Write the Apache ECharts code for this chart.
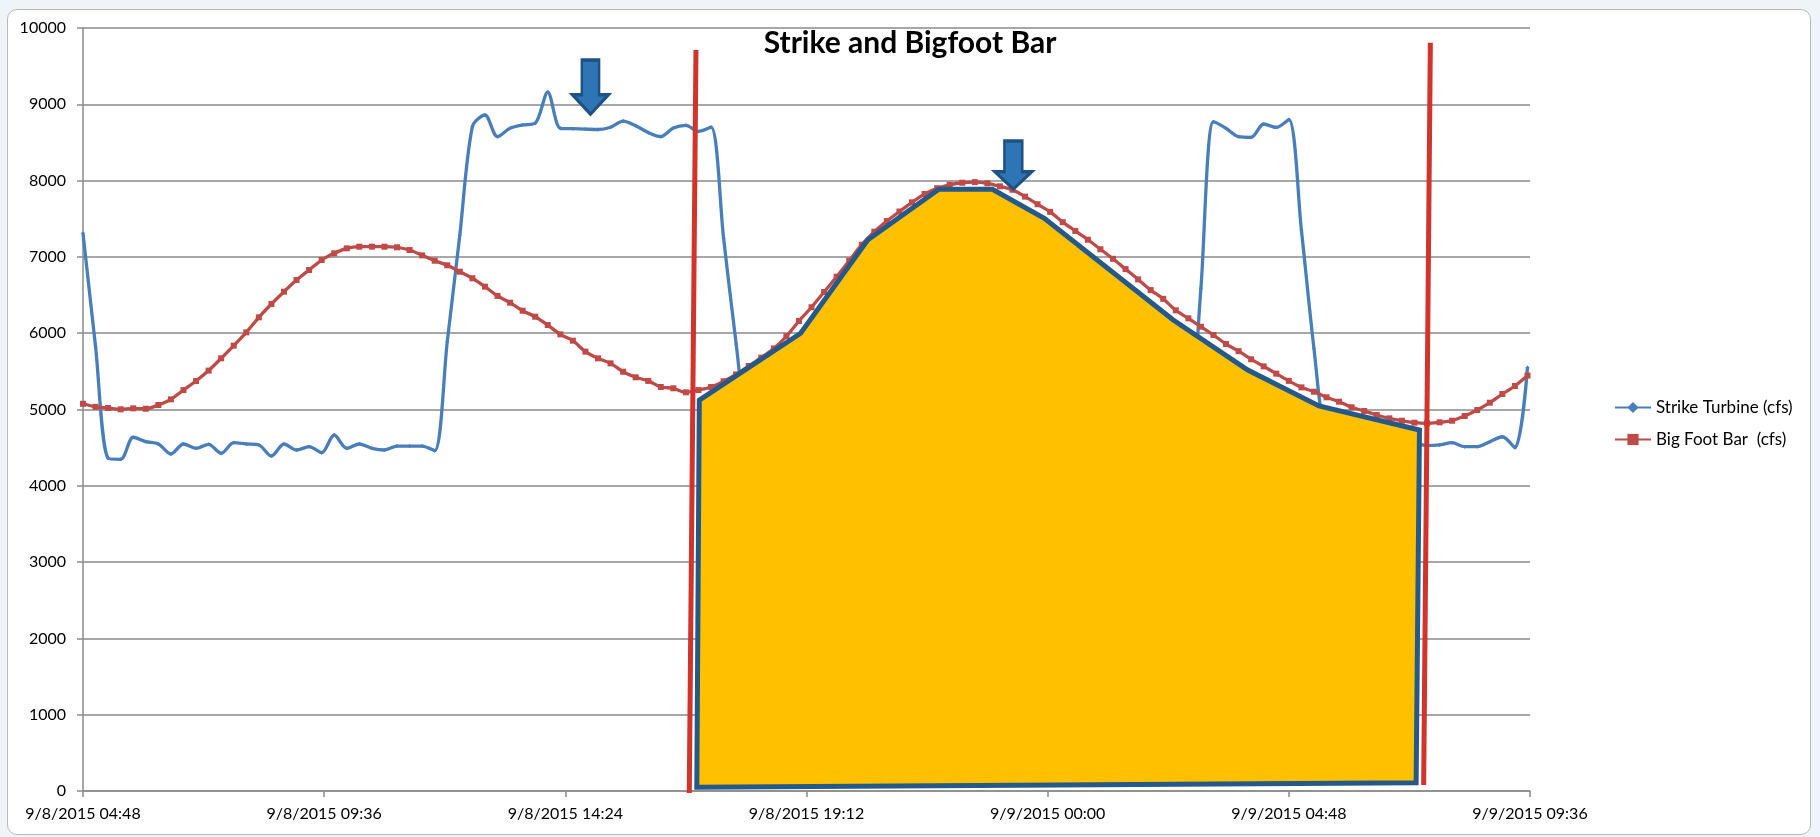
<!DOCTYPE html>
<html>
<head>
<meta charset="utf-8">
<title>Strike and Bigfoot Bar</title>
<script src="https://cdn.jsdelivr.net/npm/echarts@6/dist/echarts.min.js"></script>
<style>
  html, body { margin: 0; padding: 0; background: #eef4f7; }
  .frame {
    position: absolute; left: 7px; top: 9px; width: 1802px; height: 824px;
    background: #fff; border: 1.5px solid #b9b9b9; border-radius: 10px;
  }
  #chart { position: absolute; left: 0; top: 0; width: 1820px; height: 837px; }
</style>
</head>
<body>
<div class="frame"></div>
<div id="chart"></div>
<script>
  // time axis is in minutes counted from 9/8/2015 00:00, readings every 15 min
  var startMinute = 288
  var stepMinutes = 15
  var xTickLabels = ['9/8/2015 04:48', '9/8/2015 09:36', '9/8/2015 14:24', '9/8/2015 19:12',
                     '9/9/2015 00:00', '9/9/2015 04:48', '9/9/2015 09:36']

  var strikeTurbine = [
    7309, 5823, 4360, 4347, 4636, 4578, 4548, 4417, 4548, 4491,
    4543, 4426, 4565, 4548, 4535, 4390, 4548, 4469, 4513, 4434,
    4666, 4491, 4548, 4491, 4469, 4521, 4521, 4521, 4460, 5889,
    7287, 8707, 8860, 8576, 8685, 8729, 8751, 9160, 8685, 8680,
    8675, 8670, 8700, 8780, 8720, 8630, 8576, 8690, 8725, 8645,
    8700, 7244, 5860, 4620, 4510, 4480, 4550, 4590, 4500, 4470,
    4530, 4560, 4490, 4450, 4540, 4580, 4520, 4470, 4500, 4560,
    4610, 4530, 4480, 4510, 4550, 4500, 4460, 4520, 4570, 4530,
    4490, 4510, 4540, 4480, 4520, 4560, 4510, 4470, 4600, 6588,
    8772, 8685, 8576, 8567, 8742, 8698, 8800, 7352, 5800, 4550,
    4500, 4540, 4580, 4510, 4470, 4530, 4560, 4526, 4535, 4565,
    4513, 4513, 4578, 4643, 4500, 5550
  ]

  var bigFootBar = [
    5075, 5035, 5020, 5002, 5015, 5010, 5059, 5133, 5255, 5373,
    5510, 5671, 5837, 6011, 6208, 6383, 6544, 6697, 6828, 6959,
    7047, 7112, 7134, 7134, 7134, 7126, 7090, 7020, 6950, 6890,
    6806, 6720, 6610, 6488, 6400, 6295, 6216, 6107, 5985, 5902,
    5758, 5671, 5605, 5495, 5422, 5375, 5295, 5278, 5225, 5255,
    5295, 5370, 5460, 5570, 5680, 5800, 5960, 6160, 6340, 6540,
    6740, 6950, 7160, 7330, 7470, 7595, 7715, 7825, 7900, 7945,
    7972, 7980, 7965, 7925, 7880, 7790, 7690, 7590, 7455, 7340,
    7225, 7100, 6975, 6840, 6705, 6565, 6450, 6300, 6195, 6085,
    5976, 5858, 5765, 5658, 5565, 5470, 5375, 5290, 5233, 5160,
    5102, 5029, 4980, 4928, 4884, 4853, 4827, 4818, 4832, 4853,
    4915, 4993, 5089, 5203, 5308, 5445
  ]

  // hand drawn annotations, [minute, cfs]
  var shadedArea = [[1021, 48], [1024, 5124], [1145, 5999], [1225, 7222], [1310, 7886], [1374, 7886],
                    [1436, 7506], [1590, 6173], [1679, 5518], [1764, 5046], [1884, 4731], [1880, 109]]
  var leftBar = [[1012, -25], [1020, 9712]]
  var rightBar = [[1889, 79], [1897, 9807]]
  var arrowMarks = [[894, 9224], [1399, 8204]]

  function toPairs(values) {
    return values.map(function(v, i) { return [startMinute + i * stepMinutes, v] })
  }

  var arrowPath = 'path://M26,0 L74,0 L74,64 L100,64 L50,100 L0,64 L26,64 Z'
  var font = 'Lato'

  var option = {
    animation: false,
    title: {
      text: 'Strike and Bigfoot Bar',
      left: 'center',
      top: 23,
      textStyle: { fontFamily: font, fontSize: 30, fontWeight: 'bold', color: '#000', lineHeight: 30 }
    },
    legend: {
      orient: 'vertical',
      left: 1614,
      top: 399,
      padding: 0,
      itemWidth: 36,
      itemHeight: 14,
      itemGap: 15,
      data: ['Strike Turbine (cfs)', 'Big Foot Bar  (cfs)'],
      textStyle: { fontFamily: font, fontSize: 17, color: '#000' }
    },
    grid: { left: 83, right: 290, top: 28, bottom: 46 },
    xAxis: {
      type: 'value',
      min: 288,
      max: 2016,
      interval: 288,
      axisLine: { lineStyle: { color: '#8a8a8a', width: 1.5 } },
      axisTick: { show: true, length: 6, lineStyle: { color: '#8a8a8a', width: 1.5 } },
      splitLine: { show: false },
      axisLabel: {
        margin: 15,
        fontFamily: font, fontSize: 16, color: '#000',
        formatter: function(val) { return xTickLabels[Math.round((val - startMinute) / 288)] }
      }
    },
    yAxis: {
      type: 'value',
      min: 0,
      max: 10000,
      interval: 1000,
      axisLine: { show: true, lineStyle: { color: '#8a8a8a', width: 1.5 } },
      axisTick: { show: true, length: 6, lineStyle: { color: '#8a8a8a', width: 1.5 } },
      splitLine: { lineStyle: { color: '#8a8a8a', width: 1.5 } },
      axisLabel: {
        margin: 17, fontFamily: font, fontSize: 16, color: '#000',
        formatter: function(val) { return String(val) }
      }
    },
    series: [
      {
        name: 'Strike Turbine (cfs)',
        type: 'line',
        smooth: 0.3,
        data: toPairs(strikeTurbine),
        symbol: 'diamond',
        symbolSize: 4,
        lineStyle: { color: '#4a7ebb', width: 3.3 },
        itemStyle: { color: '#4a7ebb' },
        z: 2
      },
      {
        name: 'Big Foot Bar  (cfs)',
        type: 'line',
        smooth: 0.3,
        data: toPairs(bigFootBar),
        symbol: 'rect',
        symbolSize: 6,
        lineStyle: { color: '#be4b48', width: 3.3 },
        itemStyle: { color: '#be4b48' },
        z: 3
      },
      {
        type: 'custom',
        data: shadedArea,
        z: 4,
        renderItem: function(params, api) {
          if (params.dataIndex !== 0) return
          var pts = shadedArea.map(function(p) { return api.coord(p) })
          return {
            type: 'polygon',
            shape: { points: pts },
            style: { fill: '#ffc000', stroke: '#25598a', lineWidth: 5, lineJoin: 'miter' }
          }
        }
      },
      {
        type: 'line',
        data: leftBar,
        clip: false,
        symbol: 'none',
        lineStyle: { color: '#d1342b', width: 5 },
        z: 5
      },
      {
        type: 'line',
        data: rightBar,
        clip: false,
        symbol: 'none',
        lineStyle: { color: '#d1342b', width: 5 },
        z: 5,
        markPoint: {
          symbol: arrowPath,
          symbolKeepAspect: false,
          label: { show: false },
          itemStyle: { color: '#2e75b6', borderColor: '#1f5283', borderWidth: 3 },
          data: [
            { coord: arrowMarks[0], symbolSize: [36, 54] },
            { coord: arrowMarks[1], symbolSize: [37, 48] }
          ]
        }
      }
    ]
  }

  var myChart = echarts.init(document.getElementById('chart'))
  myChart.setOption(option)
</script>
</body>
</html>
